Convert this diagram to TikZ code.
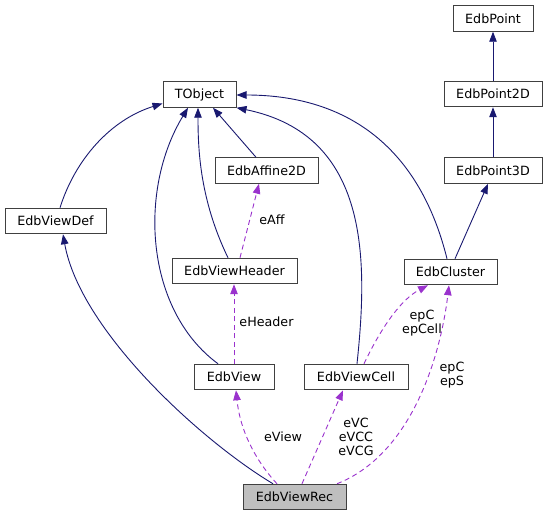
\documentclass[tikz,border=0pt]{standalone}
\usepackage{fontspec}
\setmainfont{DejaVu Sans}
\usetikzlibrary{arrows.meta}
\definecolor{navyedge}{HTML}{191970}
\definecolor{purpedge}{HTML}{9A32CD}
\definecolor{boxline}{HTML}{404040}
\definecolor{recfill}{HTML}{BFBFBF}
\tikzset{
  box/.style={draw=boxline, line width=1pt, fill=white, minimum height=25.5pt, inner sep=0pt, font=\fontsize{12.7}{14}\selectfont},
  inh/.style={draw=navyedge, line width=0.9pt, -{Triangle[length=10pt,width=7.5pt]}, navyedge},
  use/.style={draw=purpedge, line width=0.9pt, dashed, dash pattern=on 5pt off 3.5pt, -{Triangle[length=10pt,width=7.5pt]}, purpedge},
  lbl/.style={inner sep=0pt, align=center, font=\fontsize{12.7}{14}\selectfont}
}
\begin{document}
\begin{tikzpicture}[x=1pt,y=-1pt]
\useasboundingbox (0,0) rectangle (547,516);
% nodes
\node[box, minimum width=80pt]  (EdbPoint)    at (493,18.5) {EdbPoint};
\node[box, minimum width=98pt]  (EdbPointTwo) at (493,94)   {EdbPoint2D};
\node[box, minimum width=73pt]  (TObject)     at (199.5,94.5) {TObject};
\node[box, minimum width=103pt] (EdbAffine)   at (266.5,170.5) {EdbAffine2D};
\node[box, minimum width=98pt]  (EdbPointThree) at (493,170.5) {EdbPoint3D};
\node[box, minimum width=101pt] (EdbViewDef)  at (55.5,221) {EdbViewDef};
\node[box, minimum width=125pt] (EdbViewHeader) at (234.5,271) {EdbViewHeader};
\node[box, minimum width=93pt]  (EdbCluster)  at (450.5,272) {EdbCluster};
\node[box, minimum width=80pt]  (EdbView)     at (234,377) {EdbView};
\node[box, minimum width=104pt] (EdbViewCell) at (356,377) {EdbViewCell};
\node[box, minimum width=103pt, fill=recfill] (EdbViewRec) at (294.5,497) {EdbViewRec};
% anchors for edge ends
\coordinate (vdTop) at ([xshift=4.5pt]EdbViewDef.north);
\coordinate (vdBot) at ([xshift=7.5pt]EdbViewDef.south);
% inheritance edges
\draw[inh] (vdTop) .. controls (75,160) and (110,120) .. ([yshift=-9pt]TObject.west);
\draw[inh] ([xshift=-16pt]EdbView.north) .. controls (145,310) and (138,190) .. ([xshift=-11.5pt]TObject.south);
\draw[inh] ([xshift=-6.5pt]EdbViewHeader.north) .. controls (200,200) and (198,150) .. ([xshift=-1.5pt]TObject.south);
\draw[inh] ([xshift=-10.5pt]EdbAffine.north) -- ([xshift=13.5pt]TObject.south);
\draw[inh] ([xshift=1pt]EdbViewCell.north) .. controls (368,260) and (370,135) .. (TObject.south east);
\draw[inh] ([xshift=-3.5pt]EdbCluster.north) .. controls (420,150) and (350,95) .. ([yshift=-0.5pt]TObject.east);
\draw[inh] (EdbPointThree) -- (EdbPointTwo);
\draw[inh] (EdbPointTwo) -- (EdbPoint);
\draw[inh] ([xshift=4.5pt]EdbCluster.north) -- ([xshift=-5pt]EdbPointThree.south);
\draw[inh] ([xshift=-21.5pt]EdbViewRec.north) .. controls (200,440) and (80,330) .. (vdBot);
% usage edges
\draw[use] ([xshift=5.5pt]EdbViewHeader.north) -- ([xshift=-7.5pt]EdbAffine.south);
\node[lbl] (lAff) at (272,220) {eAff};
\draw[use] (EdbView.north) -- (EdbViewHeader.south -| EdbView.north);
\node[lbl] (lHeader) at (266.5,322) {eHeader};
\draw[use] ([xshift=8pt]EdbViewCell.north) .. controls (380,330) and (400,300) .. ([xshift=-22.5pt]EdbCluster.south);
\node[lbl] (lCell) at (422,323) {epC\\epCell};
\draw[use] ([xshift=42.5pt]EdbViewRec.north) .. controls (410,455) and (440,360) .. ([xshift=-1.5pt]EdbCluster.south);
\node[lbl] (lS) at (452,375) {epC\\epS};
\draw[use] ([xshift=-17.5pt]EdbViewRec.north) .. controls (255,460) and (240,430) .. ([xshift=2pt]EdbView.south);
\node[lbl] (lView) at (283,437) {eView};
\draw[use] ([xshift=7.5pt]EdbViewRec.north) -- ([xshift=-13pt]EdbViewCell.south);
\node[lbl] (lVC) at (356,437) {eVC\\eVCC\\eVCG};
\end{tikzpicture}
\end{document}
